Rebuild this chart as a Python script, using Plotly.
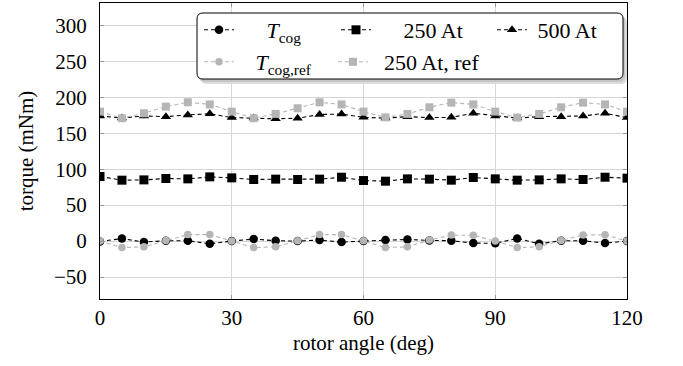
import plotly.graph_objects as go

angle = list(range(0, 121, 5))
t_cog = [-0.5, 3.5, -1.4, 0.5, 0.5, -3.7, 0.0, 2.8, 0.5, 0.0, 1.4, -1.4, 0.0,
         1.4, 2.3, 1.0, 0.5, -2.8, -3.0, 3.7, -3.7, 0.5, 0.5, -2.8, 0.0]
at_250 = [89.8, 84.7, 85.1, 87.0, 86.5, 89.3, 87.9, 85.6, 86.1, 85.6, 86.1, 88.8, 84.2,
          83.3, 86.5, 86.1, 84.7, 88.4, 86.5, 84.7, 85.1, 86.5, 85.6, 88.8, 87.5]
at_500 = [174.0, 171.0, 174.0, 173.0, 175.4, 177.0, 171.7, 171.0, 170.0, 170.8, 176.0, 176.6, 172.0,
          171.0, 173.0, 171.7, 172.0, 177.7, 174.0, 171.0, 173.0, 173.0, 174.0, 177.7, 171.7]
t_cog_ref = [0.0, -9.0, -8.0, 1.0, 9.0, 9.0, 0.0, -9.0, -8.0, 0.5, 9.0, 9.0, 0.5,
             -9.0, -8.0, 1.4, 8.3, 8.0, 0.0, -9.0, -8.0, 1.0, 8.3, 8.8, 0.0]
at_250_ref = [180.0, 170.8, 177.7, 187.0, 193.0, 190.0, 180.0, 170.8, 176.8, 184.7, 193.0, 190.0, 180.0,
              172.0, 176.8, 186.0, 192.5, 190.0, 180.0, 171.7, 176.8, 186.0, 192.5, 190.0, 180.0]

x_ticks = [0, 30, 60, 90, 120]
y_ticks = [-50, 0, 50, 100, 150, 200, 250, 300]

BLACK = "#000000"
GRAY = "#b5b5b5"
FONT = "Liberation Serif, Times New Roman, serif"
FS = 21
LFS = 22
NB = "\u00a0"

# plot area geometry (pixels)
L, R, T, B = 100, 56, 3, 67
W, H = 683 - L - R, 366 - T - B

def px(xp):
    return (xp - L) / W

def py(yp):
    return (366 - B - yp) / H

fig = go.Figure()

def add(y, name, color, symbol, size, legend):
    fig.add_trace(go.Scatter(
        x=angle, y=y, name=name, mode="lines+markers", legend=legend, showlegend=True,
        line=dict(color=color, width=1.1, dash="4px,3px"),
        marker=dict(color=color, symbol=symbol, size=size, line=dict(width=0)),
    ))

add(t_cog, NB * 5 + "<i>T</i><sub>cog</sub>", BLACK, "circle", 8.5, "legend")
add(at_250, NB * 5 + "250 At", BLACK, "square", 9, "legend2")
add(at_500, NB * 1 + "500 At", BLACK, "triangle-up", 9, "legend3")
add(t_cog_ref, NB * 3 + "<i>T</i><sub>cog,ref</sub>", GRAY, "circle", 7.5, "legend4")
add(at_250_ref, NB * 2 + "250 At, ref", GRAY, "square", 8, "legend5")

def rrect(x0, y0, x1, y1, r):
    a0, a1 = px(x0), px(x1)
    b0, b1 = py(y0), py(y1)
    rx, ry = r / W, r / H
    return (f"M {a0+rx},{b0} L {a1-rx},{b0} Q {a1},{b0} {a1},{b0-ry} "
            f"L {a1},{b1+ry} Q {a1},{b1} {a1-rx},{b1} L {a0+rx},{b1} "
            f"Q {a0},{b1} {a0},{b1+ry} L {a0},{b0-ry} Q {a0},{b0} {a0+rx},{b0} Z")

shapes = [
    dict(type="path", xref="paper", yref="paper", path=rrect(201, 17, 627, 84, 6),
         fillcolor="#dcdcdc", line=dict(width=0), layer="above"),
    dict(type="path", xref="paper", yref="paper", path=rrect(199, 15, 625, 82, 6),
         fillcolor="#c4c4c4", line=dict(width=0), layer="above"),
    dict(type="path", xref="paper", yref="paper", path=rrect(197, 13, 623, 79, 6),
         fillcolor="white", line=dict(color="black", width=1), layer="above"),
]

def leg(xp, yp):
    return dict(orientation="h", x=px(xp), y=py(yp), xanchor="left", yanchor="top",
                bgcolor="rgba(0,0,0,0)", borderwidth=0, visible=True,
                font=dict(family=FONT, size=LFS, color="black"), itemwidth=30)

fig.update_layout(
    width=683, height=366,
    margin=dict(l=L, r=R, t=T, b=B),
    paper_bgcolor="white", plot_bgcolor="white",
    font=dict(family=FONT, size=FS, color="black"),
    showlegend=True,
    shapes=shapes,
    legend=leg(199, 9),
    legend2=leg(336, 9),
    legend3=leg(492, 9),
    legend4=leg(199, 41),
    legend5=leg(333, 41),
    xaxis=dict(range=[0, 120], tickvals=x_ticks, ticktext=[str(v) for v in x_ticks],
               tickfont=dict(family=FONT, size=FS),
               showgrid=True, gridcolor="#d6d6d6", gridwidth=1, zeroline=False,
               showline=True, linecolor="black", linewidth=1, mirror="ticks",
               ticks="inside", ticklen=4, tickcolor="#9a9a9a",
               ticklabelstandoff=0,
               title=dict(text="rotor angle (deg)", standoff=6, font=dict(family=FONT, size=FS))),
    yaxis=dict(range=[-80.5, 331], tickvals=y_ticks,
               ticktext=[str(v) if v >= 0 else "\u2212" + str(-v) for v in y_ticks],
               tickfont=dict(family=FONT, size=FS),
               showgrid=True, gridcolor="#d6d6d6", gridwidth=1, zeroline=False,
               showline=True, linecolor="black", linewidth=1, mirror="ticks",
               ticks="inside", ticklen=4, tickcolor="#9a9a9a",
               ticklabelstandoff=8,
               title=dict(text="torque (mNm)", standoff=14, font=dict(family=FONT, size=FS))),
)

fig.write_html("out.html")
